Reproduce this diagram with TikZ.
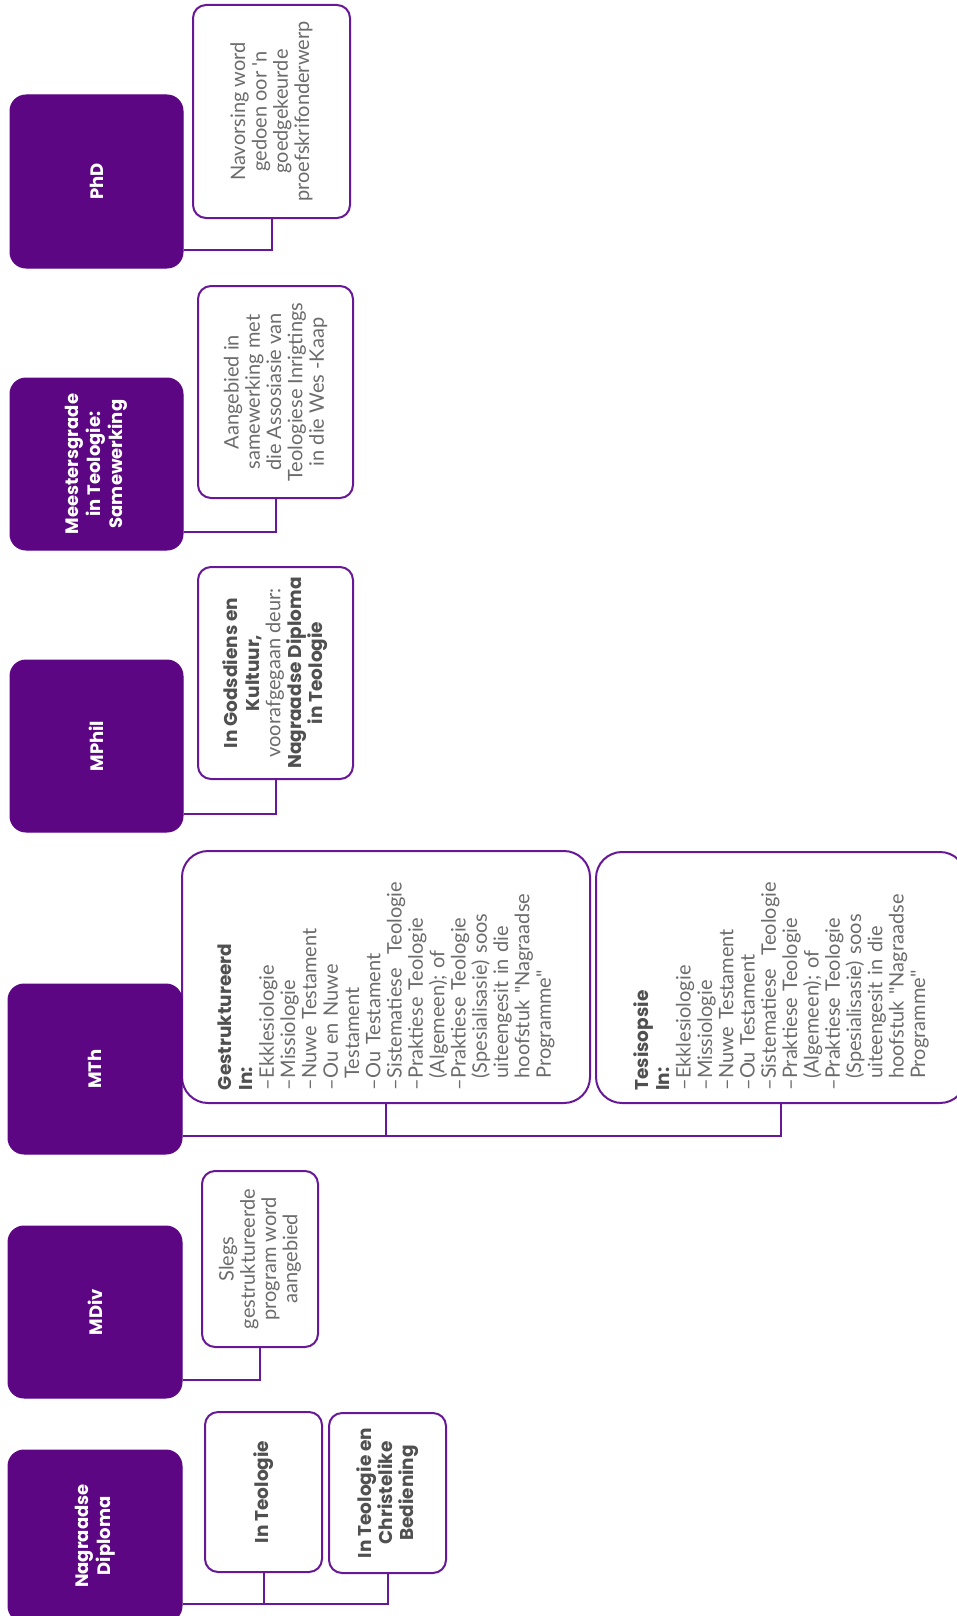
\documentclass[tikz,border=0pt]{standalone}
\usepackage{fontspec}
\setmainfont{Lato}
\newfontfamily\popp{Poppins}
\newfontfamily\latoplain{Lato}[Ligatures=TeXOff]
\definecolor{dpurple}{RGB}{92,6,132}
\definecolor{lpurple}{RGB}{104,24,150}
\definecolor{txtgray}{RGB}{108,108,108}
\definecolor{boldgray}{RGB}{80,80,80}
\newcommand\hb[1]{{\popp\bfseries\fontsize{18.5}{21.3}\selectfont\color{boldgray}#1}}
\newcommand\sq{{\latoplain"}}
\newcommand\sa{{\latoplain'}}
\tikzset{
  deg/.style={fill=dpurple, draw=dpurple, line width=1pt, rounded corners=16pt, inner sep=0pt},
  info/.style={fill=white, draw=lpurple, line width=2pt, rounded corners=13pt, inner sep=0pt},
  bigbox/.style={info, rounded corners=26pt},
  dims/.style 2 args={minimum width=#1, minimum height=#2},
  deglabel/.style={rotate=90, text=white, align=center, inner sep=0pt, font=\popp\bfseries\fontsize{18}{21.7}\selectfont},
  infotext/.style={rotate=90, text=txtgray, align=center, inner sep=0pt, font=\fontsize{20}{21.3}\selectfont},
  listtext/.style={rotate=90, text=txtgray, align=left, inner sep=0pt, text width=226pt, font=\fontsize{20}{21.3}\selectfont},
  conn/.style={draw=lpurple, line width=2pt},
}
\begin{document}
\begin{tikzpicture}[x=1pt, y=-1pt]
\useasboundingbox (0,0) rectangle (956,1616);

% ---- text boxes (drawn first)
\node[info, dims={157pt}{213pt}] (phdT) at (271.5,111.5) {};
\node[info, dims={155pt}{212pt}] (meeT) at (275.5,392) {};
\node[info, dims={155pt}{212pt}] (mphT) at (275.5,673) {};
\node[bigbox, dims={408pt}{252pt}] (gest) at (386,977) {};
\node[bigbox, dims={370pt}{251pt}] (tes) at (781,977.5) {};
\node[info, dims={116pt}{176pt}] (mdvT) at (260,1259) {};
\node[info, dims={117pt}{160pt}] (ngdA) at (263.5,1492) {};
\node[info, dims={117pt}{160pt}] (ngdB) at (387.5,1493) {};

% ---- degree boxes
\node[deg, dims={173pt}{173pt}] (phd) at (96.5,181.5) {};
\node[deg, dims={173pt}{172pt}] (mee) at (96.5,464) {};
\node[deg, dims={173pt}{172pt}] (mph) at (96.5,746) {};
\node[deg, dims={174pt}{170pt}] (mth) at (95,1069) {};
\node[deg, dims={174pt}{172pt}] (mdv) at (95,1312) {};
\node[deg, dims={174pt}{172pt}] (ngd) at (95,1536) {};

% ---- connectors
\draw[conn] ([yshift=18.5pt]phd.south east) -| (phdT.south);
\draw[conn] ([yshift=18.5pt]mee.south east) -| (meeT.south);
\draw[conn] ([yshift=18.5pt]mph.south east) -| (mphT.south);
\coordinate (mthc) at ([yshift=18.5pt]mth.south east);
\draw[conn] (mthc) -| (tes.south);
\draw[conn] (gest.south) -- (gest.south |- mthc);
\draw[conn] ([yshift=18.5pt]mdv.south east) -| (mdvT.south);
\coordinate (ngdc) at ([yshift=18.5pt]ngd.south east);
\draw[conn] (ngdc) -| (ngdB.south);
\draw[conn] (ngdA.south) -- (ngdA.south |- ngdc);

% ---- degree labels
\node[deglabel] (phdL) at (phd) {PhD};
\node[deglabel] (meeL) at (mee) {Meestersgrade\\in Teologie:\\Samewerking};
\node[deglabel] (mphL) at (mph) {MPhil};
\node[deglabel] (mthL) at (mth) {MTh};
\node[deglabel] (mdvL) at (mdv) {MDiv};
\node[deglabel] (ngdL) at (ngd) {Nagraadse\\Diploma};

% ---- info texts
\node[infotext] (phdTL) at (phdT) {Navorsing word\\gedoen oor \sa n\\goedgekeurde\\proefskrifonderwerp};
\node[infotext] (meeTL) at (meeT) {Aangebied in\\samewerking met\\die Assosiasie van\\Teologiese Inrigtings\\in die Wes -Kaap};
\node[infotext] (mphTL) at (mphT) {\hb{In Godsdiens en}\\\hb{Kultuur,}\\voorafgegaan deur:\\\hb{Nagraadse Diploma}\\\hb{in Teologie}};
\node[listtext] (gestL) at (gest) {\hb{Gestruktureerd}\\\hb{In:}\\–Ekklesiologie\\–Missiologie\\–Nuwe Testament\\–Ou en Nuwe\\\phantom{–}Testament\\–Ou Testament\\–Sistematiese\ \ Teologie\\–Praktiese Teologie\\\phantom{–}(Algemeen); of\\–Praktiese Teologie\\\phantom{–}(Spesialisasie) soos\\\phantom{–}uiteengesit in die\\\phantom{–}hoofstuk \sq Nagraadse\\\phantom{–}Programme\sq};
\node[listtext] (tesL) at (tes) {\hb{Tesisopsie}\\\hb{In:}\\–Ekklesiologie\\–Missiologie\\–Nuwe Testament\\–Ou Testament\\–Sistematiese\ \ Teologie\\–Praktiese Teologie\\\phantom{–}(Algemeen); of\\–Praktiese Teologie\\\phantom{–}(Spesialisasie) soos\\\phantom{–}uiteengesit in die\\\phantom{–}hoofstuk \sq Nagraadse\\\phantom{–}Programme\sq};
\node[infotext] (mdvTL) at (mdvT) {Slegs\\gestruktureerde\\program word\\aangebied};
\node[infotext] (ngdAL) at (ngdA) {\hb{In Teologie}};
\node[infotext] (ngdBL) at (ngdB) {\hb{In Teologie en}\\\hb{Christelike}\\\hb{Bediening}};
\end{tikzpicture}
\end{document}
